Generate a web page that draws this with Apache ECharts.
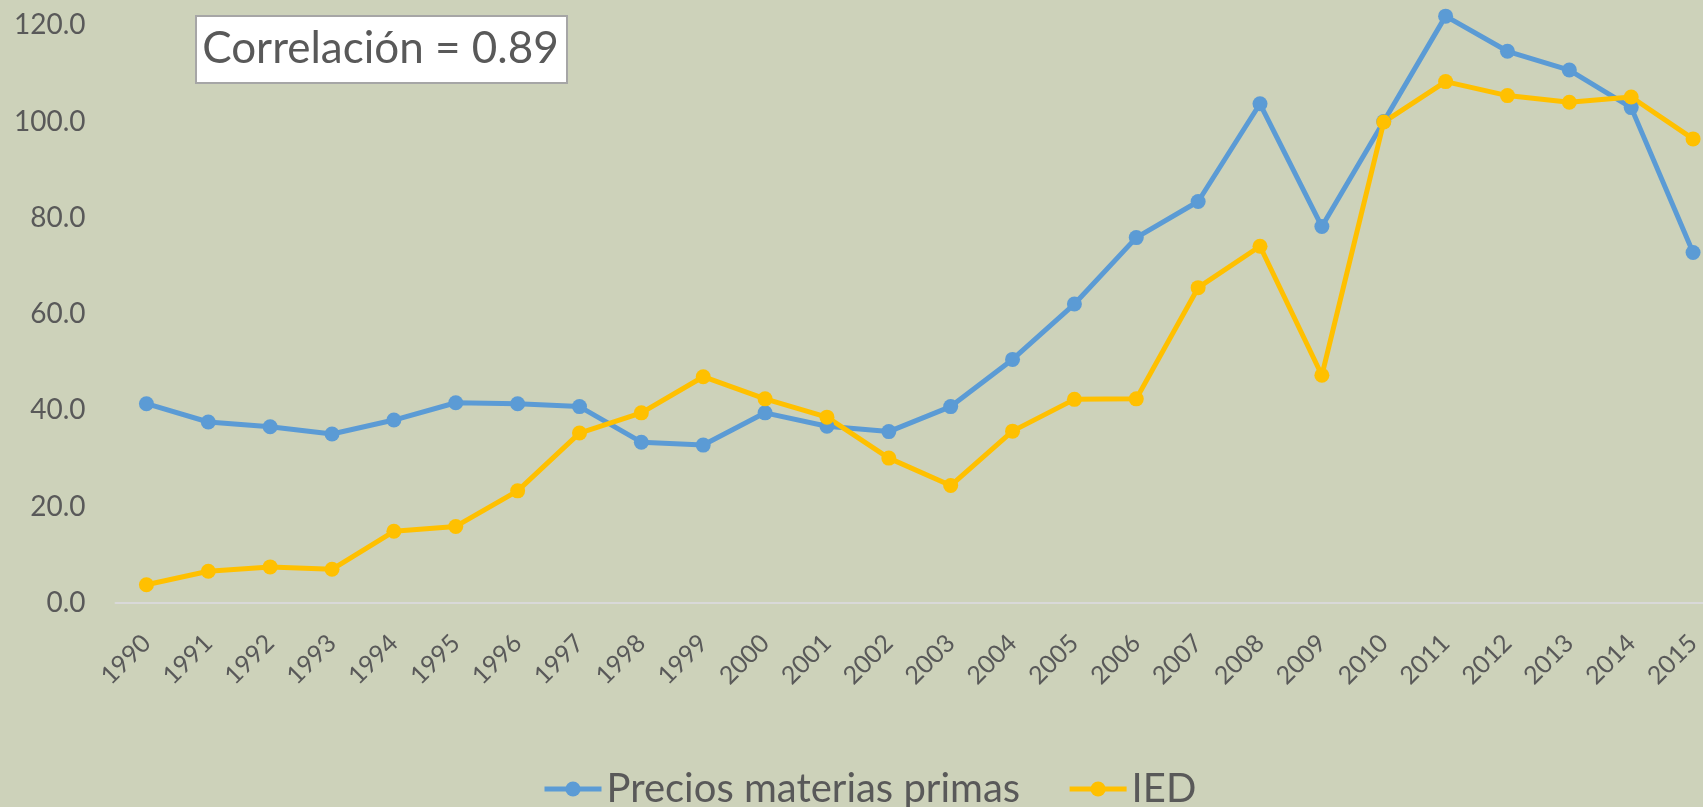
<!DOCTYPE html>
<html>
<head>
<meta charset="utf-8">
<script src="https://cdn.jsdelivr.net/npm/echarts@6/dist/echarts.min.js"></script>
<style>
  html, body { margin: 0; padding: 0; background: #CDD2BA; }
  #main { width: 1703px; height: 807px; }
</style>
</head>
<body>
<div id="main"></div>
<script>
// años (eje x)
var years = ['1990','1991','1992','1993','1994','1995','1996','1997','1998','1999',
  '2000','2001','2002','2003','2004','2005','2006','2007','2008','2009',
  '2010','2011','2012','2013','2014','2015'];

// índices
var precios = [41.4, 37.6, 36.6, 35.1, 38.0, 41.6, 41.4, 40.8, 33.4, 32.8,
  39.5, 36.7, 35.6, 40.8, 50.6, 62.1, 75.9, 83.4, 103.7, 78.2,
  100.0, 121.9, 114.6, 110.7, 102.9, 72.8];
var ied = [3.8, 6.6, 7.5, 7.0, 14.9, 15.9, 23.3, 35.3, 39.5, 47.0,
  42.4, 38.6, 30.1, 24.4, 35.7, 42.3, 42.4, 65.5, 74.1, 47.3,
  99.9, 108.3, 105.4, 104.0, 105.1, 96.4];

var seriesNames = ['Precios materias primas', 'IED'];
var corrText = 'Correlación = 0.89';

var FONT = 'Lato, "Open Sans", sans-serif';
var TXT = '#595959';

var chart = echarts.init(document.getElementById('main'));

var option = {
  animation: false,
  backgroundColor: '#CDD2BA',
  color: ['#5B9BD5', '#FFC000'],
  textStyle: { fontFamily: FONT },
  // el área de trazado se sale del lienzo por arriba y por la derecha
  grid: {
    left: 115.5,
    right: -21,
    top: -71,
    bottom: 204,
    outerBoundsMode: 'none'
  },
  legend: {
    data: seriesNames,
    left: 537,
    top: 764,
    itemWidth: 57,
    itemHeight: 19,
    itemGap: 47,
    lineStyle: { width: 5 },
    textStyle: { fontSize: 40, color: TXT, fontFamily: FONT }
  },
  xAxis: {
    type: 'category',
    data: years,
    boundaryGap: true,
    axisTick: { show: false },
    axisLine: { show: true, lineStyle: { color: '#D9D9D9', width: 2 } },
    axisLabel: {
      rotate: 45,
      interval: 0,
      margin: 36,
      fontSize: 25,
      color: TXT,
      fontFamily: FONT
    }
  },
  yAxis: {
    type: 'value',
    min: 0,
    max: 140,
    interval: 20,
    splitLine: { show: false },
    axisLine: { show: false },
    axisTick: { show: false },
    axisLabel: {
      margin: 30,
      fontSize: 28,
      color: TXT,
      fontFamily: FONT,
      formatter: function (v) { return v.toFixed(1); }
    }
  },
  series: [
    {
      name: seriesNames[0],
      type: 'line',
      data: precios,
      symbol: 'circle',
      symbolSize: 15,
      lineStyle: { width: 5 }
    },
    {
      name: seriesNames[1],
      type: 'line',
      data: ied,
      symbol: 'circle',
      symbolSize: 15,
      lineStyle: { width: 5 }
    }
  ],
  graphic: [
    {
      type: 'rect',
      left: 195,
      top: 15,
      shape: { width: 371, height: 67 },
      style: { fill: '#FFFFFF', stroke: '#A6A6A6', lineWidth: 2 },
      z: 100
    },
    {
      type: 'text',
      x: 380.5,
      y: 49,
      style: {
        text: corrText,
        fontSize: 44,
        fill: TXT,
        fontFamily: FONT,
        align: 'center',
        verticalAlign: 'middle'
      },
      z: 101
    }
  ]
};

chart.setOption(option);
</script>
</body>
</html>
